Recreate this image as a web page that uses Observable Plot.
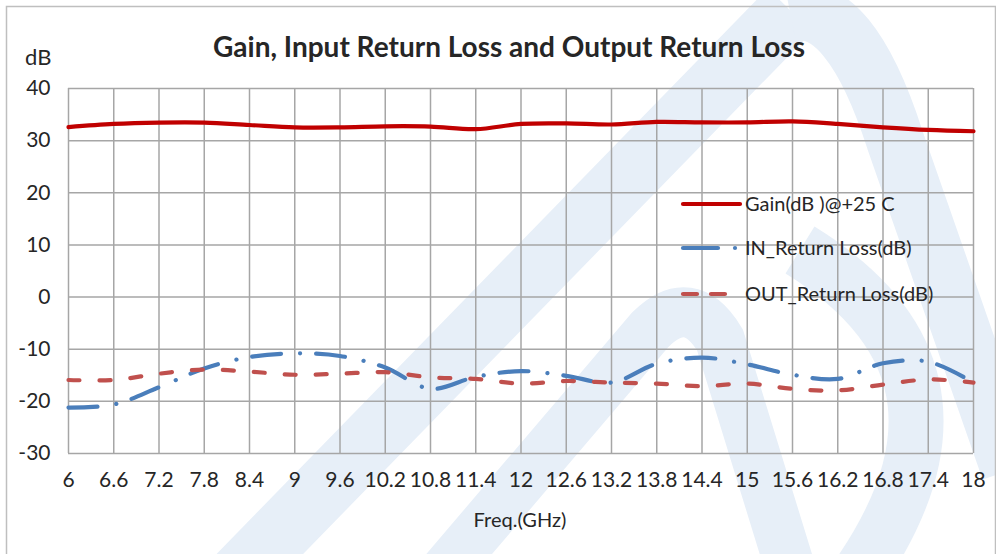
<!DOCTYPE html>
<html><head><meta charset="utf-8">
<script src="https://cdn.jsdelivr.net/npm/d3@7"></script>
<script src="https://cdn.jsdelivr.net/npm/@observablehq/plot@0.6"></script>
<style>
html,body{margin:0;padding:0;background:#fff;}
#wrap{position:relative;width:996px;height:554px;overflow:hidden;font-family:Lato,"Open Sans",sans-serif;color:#262626;}
.abs{position:absolute;white-space:nowrap;}
#chart{position:absolute;left:0;top:0;}
#chart svg{background:transparent;}
</style></head>
<body>
<div id="wrap">
<svg class="abs" style="left:0;top:0" width="996" height="554">
  <g fill="none" stroke="#e7eff8" stroke-linecap="butt">
    <path d="M215,600 L790,10" stroke-width="62"/>
    <path d="M790,12 Q850,0 895,140 L1010,470" stroke-width="58"/>
    <path d="M420,600 L650,330 Q690,290 720,340 L800,600" stroke-width="50"/>
    <path d="M800,250 Q1010,380 840,600" stroke-width="55"/>
  </g>
  <rect x="6.5" y="6.5" width="989" height="560" fill="none" stroke="#bfbfbf" stroke-width="1.5"/>
</svg>
<div id="chart"></div>
<div class="abs" id="title" style="left:0;width:1018px;top:29px;text-align:center;font-weight:bold;font-size:28px;line-height:34px;">Gain, Input Return Loss and Output Return Loss</div>
<div class="abs" style="left:25px;top:43px;font-size:22px;line-height:28px;">dB</div>
<div class="abs" style="left:0;width:1040px;top:506px;text-align:center;font-size:20px;line-height:26px;">Freq.(GHz)</div>
<svg class="abs" id="legend" style="left:670px;top:185px" width="326" height="130"></svg>
</div>
<script>
const freq = [6,6.6,7.2,7.8,8.4,9,9.6,10.2,10.8,11.4,12,12.6,13.2,13.8,14.4,15,15.6,16.2,16.8,17.4,18];
const freqLabels = ["6","6.6","7.2","7.8","8.4","9","9.6","10.2","10.8","11.4","12","12.6","13.2","13.8","14.4","15","15.6","16.2","16.8","17.4","18"];
const gain = [32.6,33.2,33.45,33.45,33.0,32.55,32.55,32.75,32.7,32.2,33.2,33.3,33.1,33.6,33.5,33.5,33.7,33.2,32.55,32.05,31.8];
const inRL = [-21.2,-20.6,-17.3,-13.7,-11.5,-10.8,-11.3,-13.5,-17.6,-15.3,-14.2,-15.1,-16.4,-12.8,-11.6,-12.9,-14.9,-15.7,-12.7,-12.4,-16.4];
const outRL = [-15.9,-15.9,-14.7,-13.9,-14.3,-14.9,-14.7,-14.4,-15.4,-15.7,-16.6,-16.1,-16.4,-16.6,-17.1,-16.6,-17.6,-17.9,-16.8,-15.8,-16.4];
const yTicks = [-30,-20,-10,0,10,20,30,40];
const seriesNames = ["Gain(dB )@+25 C","IN_Return Loss(dB)","OUT_Return Loss(dB)"];
const seriesColors = ["#c00000","#4a7ebb","#c0504d"];
const seriesDash = [null,"29,19,0.1,16","11,20"];

const rows = freq.map((f,i)=>({f, gain:gain[i], inRL:inRL[i], outRL:outRL[i]}));
const keys = ["gain","inRL","outRL"];

const lineMarks = keys.map((k,j)=>Plot.line(rows,{x:"f", y:k, stroke:seriesColors[j], strokeWidth:4.2,
  strokeDasharray:seriesDash[j]||undefined, strokeLinecap:"round", curve:"catmull-rom"}));

const chart = Plot.plot({
  width:996, height:554,
  marginLeft:68, marginRight:23, marginTop:88, marginBottom:101,
  style:{background:"transparent", fontFamily:"Lato, 'Open Sans', sans-serif", fontSize:"21px", color:"#262626"},
  x:{domain:[6,18]},
  y:{domain:[-30,40]},
  marks:[
    Plot.gridX(freq,{stroke:"#a6a6a6", strokeOpacity:1, strokeWidth:1.5}),
    Plot.gridY(yTicks,{stroke:"#a6a6a6", strokeOpacity:1, strokeWidth:1.5}),
    ...lineMarks,
    Plot.axisX(freq,{tickSize:0, tickPadding:19, tickFormat:(d,i)=>freqLabels[i], fontSize:21, label:null}),
    Plot.axisY(yTicks,{tickSize:0, tickPadding:18, tickFormat:d=>String(d), fontSize:21, label:null})
  ]
});
document.getElementById("chart").appendChild(chart);

// legend
const leg = d3.select("#legend");
const ly = [19,63,109];
seriesNames.forEach((name,j)=>{
  leg.append("line").attr("x1",13).attr("x2",j===2?64:70).attr("y1",ly[j]).attr("y2",ly[j])
    .attr("stroke",seriesColors[j]).attr("stroke-width",4.2).attr("stroke-linecap","round")
    .attr("stroke-dasharray", j===0?null:(j===1?"35,30":"14,14"));
  if(j===1) leg.append("circle").attr("cx",65).attr("cy",ly[j]).attr("r",2.1).attr("fill",seriesColors[j]);
  leg.append("text").attr("x",75).attr("y",ly[j]).attr("dy","0.35em")
    .attr("font-family","Lato, 'Open Sans', sans-serif").attr("font-size",20).attr("fill","#262626").text(name);
});
</script>
</body></html>
